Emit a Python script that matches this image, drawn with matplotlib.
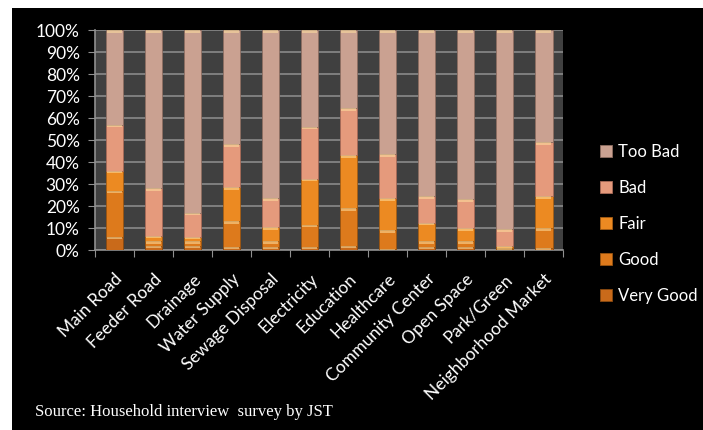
import matplotlib
matplotlib.use("Agg")
import matplotlib.pyplot as plt
import numpy as np
from matplotlib.patches import Rectangle

categories = ["Main Road", "Feeder Road", "Drainage", "Water Supply", "Sewage Disposal",
              "Electricity", "Education", "Healthcare", "Community Center", "Open Space",
              "Park/Green", "Neighborhood Market"]
series = ["Very Good", "Good", "Fair", "Bad", "Too Bad"]

very_good = [6, 2, 2, 1.5, 1.5, 1.5, 2, 0.5, 1.5, 1.5, 0.5, 1]
good = [21, 2, 2, 11.5, 2.5, 10, 17, 8.5, 2.5, 2.5, 0.5, 9]
fair = [9, 2.5, 2, 15.5, 6.5, 21, 24, 14.5, 8.5, 6, 1, 14.5]
bad = [21, 21.5, 11, 19.5, 13, 23.5, 21.5, 20, 12, 13, 7.5, 24.5]
too_bad = [43, 72, 83, 52, 76.5, 44, 35.5, 56.5, 75.5, 77, 90.5, 51]

colors = ["#c96a1a", "#dd7a1c", "#ec8a22", "#e59a7c", "#caa191"]
edges = ["#8a4a10", "#9a5410", "#a65e14", "#a86a58", "#8e6e62"]

plt.rcParams['font.family'] = ['Lato', 'DejaVu Sans']

fig = plt.figure(figsize=(7.03, 4.30), dpi=100)
fig.patch.set_facecolor("white")
# black panel behind everything
fig.patches.append(Rectangle((12 / 703, 0), 1 - 12 / 703, 1 - 8 / 430,
                             transform=fig.transFigure, facecolor="black",
                             edgecolor="none", zorder=-10))

ax = fig.add_axes([0.1351, 0.4186, 0.6658, 0.5116])
ax.set_facecolor("#404040")

x = np.arange(len(categories))
bottom = np.zeros(len(categories))
handles = []
for name, vals, c, ec in zip(series, [very_good, good, fair, bad, too_bad], colors, edges):
    vals = np.array(vals)
    b = ax.bar(x, vals, 0.46, bottom=bottom, color=c, edgecolor=ec, linewidth=0.6,
               label=name, zorder=3)
    # light highlight at the top of each segment
    ax.bar(x, np.minimum(vals, 1.2), 0.40, bottom=bottom + vals - np.minimum(vals, 1.2),
           color="#ffe0a0", alpha=0.55, linewidth=0, zorder=4)
    handles.append(b)
    bottom += vals

ax.set_xlim(-0.5, len(categories) - 0.5)
ax.set_ylim(0, 100)
ax.set_yticks(np.arange(0, 101, 10))
ax.set_yticklabels([f"{v}%" for v in range(0, 101, 10)], color="white", fontsize=12.5)
ax.set_xticks(np.arange(-0.5, len(categories), 1), minor=False)
ax.set_xticklabels([])
ax.set_xticks(x, minor=True)
ax.set_xticklabels(categories, minor=True, rotation=45, ha="right", va="top",
                   rotation_mode="anchor", color="white", fontsize=12.5)
ax.tick_params(axis="x", which="minor", length=0, pad=15)
ax.tick_params(axis="x", which="major", length=5, color="#909090")
ax.tick_params(axis="y", length=5, color="#909090", pad=6)
ax.yaxis.grid(True, color="#8a8a8a", linewidth=1.2, zorder=0)
ax.set_axisbelow(True)
for s in ["top", "right"]:
    ax.spines[s].set_visible(False)
for s in ["left", "bottom"]:
    ax.spines[s].set_color("#909090")
    ax.spines[s].set_linewidth(1.2)

leg = fig.legend(handles[::-1], series[::-1], loc="upper left",
                 bbox_to_anchor=(0.832, 0.7), frameon=False, fontsize=12,
                 labelcolor="white", handlelength=0.75, handleheight=0.75,
                 handletextpad=0.35, labelspacing=1.2)

fig.text(35 / 703, 1 - 412 / 430, "Source: Household interview  survey by JST",
         family="Liberation Serif", fontsize=12, color="white", va="center")

fig.savefig("out.png", dpi=100)
